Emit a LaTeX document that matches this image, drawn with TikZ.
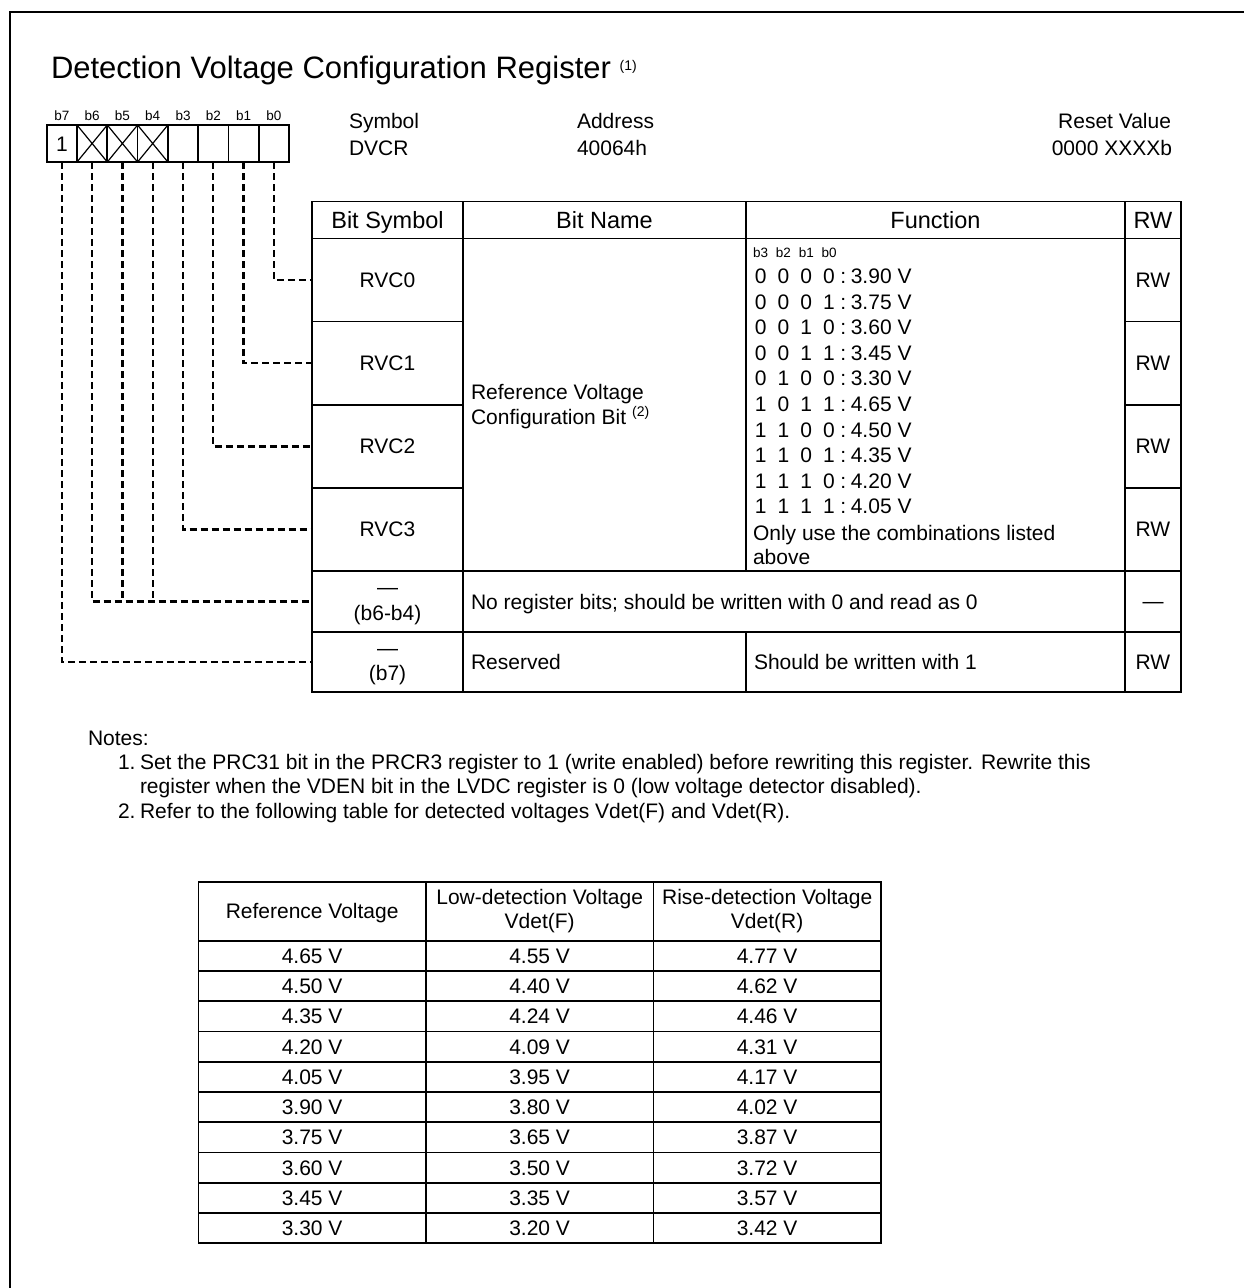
\documentclass[tikz,border=0pt]{standalone}
\usepackage{fontspec}
\setmainfont{Liberation Sans}
\newcommand\dg[1]{\makebox[22.8pt][c]{#1}}
\newcommand\supnote[1]{{\fontsize{14}{14}\selectfont\raisebox{8pt}{#1}}}
\begin{document}
\begin{tikzpicture}[x=1pt,y=-1pt,
  every node/.style={inner sep=0pt, outer sep=0pt},
  body/.style={font=\fontsize{21}{25.6}\selectfont},
  bodyc/.style={body, text height=15, text depth=0},
  head/.style={font=\fontsize{23.5}{28}\selectfont, text height=17, text depth=0},
  small/.style={font=\fontsize{13.5}{16}\selectfont},
  cell/.style 2 args={draw, line width=1.7pt, anchor=north west, minimum width=#1, minimum height=#2},
  lead/.style={line width=2.4pt, dash pattern=on 7pt off 4pt},
]
\useasboundingbox (0,0) rectangle (1244,1288);
% outer frame
\draw[line width=2pt] (9.5,1288) -- (9.5,11.5) -- (1244,11.5);

% title
\node[font=\fontsize{31}{36}\selectfont, anchor=base west] (title) at (51,78.5)
  {Detection Voltage Configuration Register \supnote{(1)}};

% header info
\node[body, anchor=base west] (symlbl) at (349,128) {Symbol};
\node[body, anchor=base west] (symval) at (349,155) {DVCR};
\node[body, anchor=base west] (addrlbl) at (577,128) {Address};
\node[body, anchor=base west] (addrval) at (577,155) {40064h};
\node[body, anchor=base east] (rstlbl) at (1171,128) {Reset Value};
\node[body, anchor=base east] (rstval) at (1172,155) {0000 XXXXb};

% bit boxes
\foreach \i in {0,...,7} {
  \pgfmathsetmacro\bx{46.7+(7-\i)*30.29}
  \node[cell={30.29}{37}] (bit\i) at (\bx,125) {};
  \node[small, anchor=base] (bl\i) at (\bx+15.15,120) {b\i};
}
\node[bodyc] (one) at (bit7.center) {1};
\foreach \i in {4,5,6}
  \draw[line width=1.2pt] (bit\i.north west) -- (bit\i.south east)
                          (bit\i.north east) -- (bit\i.south west);

% main table
\node[cell={151}{37}, head] (hsym) at (312,201.5) {Bit Symbol};
\node[cell={283}{37}, head] (hname) at (463,201.5) {Bit Name};
\node[cell={379}{37}, head] (hfun) at (746,201.5) {Function};
\node[cell={56}{37}, head] (hrw) at (1125,201.5) {RW};
\foreach \i/\y in {0/238.5,1/321.625,2/404.75,3/487.875} {
  \node[cell={151}{83.125}, bodyc] (rvc\i) at (312,\y) {RVC\i};
  \node[cell={56}{83.125}, bodyc] (rw\i) at (1125,\y) {RW};
}
\node[cell={283}{332.5}] (bname) at (463,238.5) {};
\node[body, anchor=base west] (bname1) at (471,399.5) {Reference Voltage};
\node[body, anchor=base west] (bname2) at (471,424) {Configuration Bit \supnote{(2)}};
\node[cell={379}{332.5}] (bfun) at (746,238.5) {};
\node[small, anchor=base west] (bitslbl) at (749.3,257.5) {\dg{b3}\dg{b2}\dg{b1}\dg{b0}};
\foreach \t [count=\i from 0] in {
  {\dg0\dg0\dg0\dg0:\hspace{4.5pt}3.90 V},
  {\dg0\dg0\dg0\dg1:\hspace{4.5pt}3.75 V},
  {\dg0\dg0\dg1\dg0:\hspace{4.5pt}3.60 V},
  {\dg0\dg0\dg1\dg1:\hspace{4.5pt}3.45 V},
  {\dg0\dg1\dg0\dg0:\hspace{4.5pt}3.30 V},
  {\dg1\dg0\dg1\dg1:\hspace{4.5pt}4.65 V},
  {\dg1\dg1\dg0\dg0:\hspace{4.5pt}4.50 V},
  {\dg1\dg1\dg0\dg1:\hspace{4.5pt}4.35 V},
  {\dg1\dg1\dg1\dg0:\hspace{4.5pt}4.20 V},
  {\dg1\dg1\dg1\dg1:\hspace{4.5pt}4.05 V}} {
  \node[body, anchor=base west] (fl\i) at (749.3,283.5+25.6*\i) {\t};
}
\node[body, anchor=base west] (only) at (753,540) {Only use the combinations listed};
\node[body, anchor=base west] (above) at (753,564.5) {above};

\node[cell={151}{61}] (rsv64) at (312,571) {};
\node[body, anchor=base] (rsv64a) at (387.5,594.7) {—};
\node[body, anchor=base] (rsv64b) at (387.5,620.6) {(b6-b4)};
\node[cell={662}{61}] (nobits) at (463,571) {};
\node[body, anchor=base west] (nobitstxt) at (471,609) {No register bits; should be written with 0 and read as 0};
\node[cell={56}{61}] (rw64) at (1125,571) {};
\node[body, anchor=base] (rw64t) at (1153,608.5) {—};

\node[cell={151}{60}] (rsv7) at (312,632) {};
\node[body, anchor=base] (rsv7a) at (387.5,655.7) {—};
\node[body, anchor=base] (rsv7b) at (387.5,680.6) {(b7)};
\node[cell={283}{60}] (resv) at (463,632) {};
\node[body, anchor=base west] (resvtxt) at (471,669.5) {Reserved};
\node[cell={379}{60}] (should) at (746,632) {};
\node[body, anchor=base west] (shouldtxt) at (754,669.5) {Should be written with 1};
\node[cell={56}{60}, bodyc] (rw7) at (1125,632) {RW};

% leaders
\draw[lead] (bit0.south) |- (rvc0.west);
\draw[lead] (bit1.south) |- (rvc1.west);
\draw[lead] (bit2.south) |- (rvc2.west);
\draw[lead] (bit3.south) |- (rvc3.west);
\draw[lead] (bit6.south) |- (rsv64.west);
\draw[lead] (bit5.south) -- (bit5.south |- rsv64.west);
\draw[lead] (bit4.south) -- (bit4.south |- rsv64.west);
\draw[lead] (bit7.south) |- (rsv7.west);

% notes
\node[body, anchor=base west] (notes) at (88,745) {Notes:};
\node[body, anchor=base west] (n1a) at (118,769.5) {1.};
\node[body, anchor=base west] (n1b) at (140,769.5) {Set the PRC31 bit in the PRCR3 register to 1 (write enabled) before rewriting this register. Rewrite this};
\node[body, anchor=base west] (n1c) at (140,793.5) {register when the VDEN bit in the LVDC register is 0 (low voltage detector disabled).};
\node[body, anchor=base west] (n2a) at (118,818) {2.};
\node[body, anchor=base west] (n2b) at (140,818) {Refer to the following table for detected voltages Vdet(F) and Vdet(R).};

% lower table
\node[cell={227.5}{59}, bodyc] (lh1) at (198.4,881.7) {Reference Voltage};
\node[cell={227.5}{59}, font=\fontsize{21}{24}\selectfont, align=center] (lh2) at (425.9,881.7) {Low-detection Voltage\\Vdet(F)};
\node[cell={227.5}{59}, font=\fontsize{21}{24}\selectfont, align=center] (lh3) at (653.4,881.7) {Rise-detection Voltage\\Vdet(R)};
\foreach \a/\b/\c [count=\i from 0] in {4.65/4.55/4.77, 4.50/4.40/4.62, 4.35/4.24/4.46,
   4.20/4.09/4.31, 4.05/3.95/4.17, 3.90/3.80/4.02, 3.75/3.65/3.87, 3.60/3.50/3.72,
   3.45/3.35/3.57, 3.30/3.20/3.42} {
  \node[cell={227.5}{30.26}, bodyc] (la\i) at (198.4,940.7+30.26*\i) {\a\ V};
  \node[cell={227.5}{30.26}, bodyc] (lb\i) at (425.9,940.7+30.26*\i) {\b\ V};
  \node[cell={227.5}{30.26}, bodyc] (lc\i) at (653.4,940.7+30.26*\i) {\c\ V};
}
\end{tikzpicture}
\end{document}
